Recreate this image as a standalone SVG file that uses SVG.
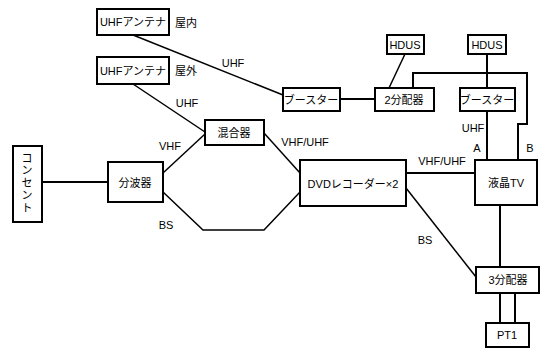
<svg xmlns="http://www.w3.org/2000/svg" width="548" height="356" viewBox="0 0 548 356">
<style>
.box{fill:#fff;stroke:#000;stroke-width:2}
.ln{fill:none;stroke:#000;stroke-width:2}
.dg{fill:none;stroke:#000;stroke-width:1.5}
text{font-family:"Liberation Sans","Noto Sans CJK JP",sans-serif;font-size:11px;fill:#000}
.c{text-anchor:middle}
</style>
<rect width="548" height="356" fill="#fff"/>
<g id="connectors">
<line class="dg" x1="133" y1="35" x2="283" y2="95"/>
<line class="dg" x1="133" y1="84" x2="205" y2="132"/>
<line class="ln" x1="42" y1="182" x2="108" y2="182"/>
<line class="dg" x1="163" y1="173" x2="205" y2="134"/>
<polyline class="dg" points="163,192 203,230 264,230 300,192"/>
<line class="dg" x1="264" y1="133" x2="300" y2="173"/>
<line class="ln" x1="340" y1="99" x2="375" y2="99"/>
<line class="dg" x1="405" y1="54" x2="389" y2="88"/>
<line class="ln" x1="487" y1="54" x2="487" y2="88"/>
<polyline class="ln" points="413,88 413,73 527,73 527,124 518,124 518,160"/>
<line class="ln" x1="487" y1="111" x2="487" y2="160"/>
<line class="ln" x1="406" y1="173" x2="475" y2="173"/>
<line class="dg" x1="406" y1="188" x2="476" y2="277"/>
<line class="ln" x1="500" y1="205" x2="500" y2="267"/>
<line class="ln" x1="500" y1="293" x2="500" y2="323"/>
<line class="ln" x1="515" y1="293" x2="515" y2="323"/>
<text class="c" x="233" y="67">UHF</text>
<text class="c" x="187" y="107">UHF</text>
<text class="c" x="170" y="150">VHF</text>
<text class="c" x="166" y="229">BS</text>
<text class="c" x="305" y="146">VHF/UHF</text>
<text class="c" x="442" y="165">VHF/UHF</text>
<text class="c" x="473" y="132">UHF</text>
<text class="c" x="477" y="152">A</text>
<text class="c" x="530" y="152">B</text>
<text class="c" x="425" y="244">BS</text>
</g>
<g id="ant1"><rect class="box" x="97" y="9" width="72" height="26"/><text class="c" x="133" y="26">UHFアンテナ</text><text x="175" y="27">屋内</text></g>
<g id="ant2"><rect class="box" x="97" y="57" width="72" height="27"/><text class="c" x="133" y="75">UHFアンテナ</text><text x="175" y="75">屋外</text></g>
<g id="booster1"><rect class="box" x="283" y="88" width="57" height="23"/><text class="c" x="311" y="104">ブースター</text></g>
<g id="split2"><rect class="box" x="375" y="88" width="59" height="23"/><text class="c" x="404" y="104">2分配器</text></g>
<g id="hdus1"><rect class="box" x="387" y="35" width="37" height="19"/><text class="c" x="405" y="49">HDUS</text></g>
<g id="hdus2"><rect class="box" x="468" y="35" width="38" height="19"/><text class="c" x="487" y="49">HDUS</text></g>
<g id="booster2"><rect class="box" x="460" y="88" width="55" height="23"/><text class="c" x="487" y="104">ブースター</text></g>
<g id="mixer"><rect class="box" x="205" y="120" width="59" height="25"/><text class="c" x="234" y="137">混合器</text></g>
<g id="concent"><rect class="box" x="13" y="146" width="29" height="76"/>
<text class="c" x="27" y="162">コ</text><text class="c" x="27" y="174">ン</text><text class="c" x="27" y="187">セ</text><text class="c" x="27" y="199">ン</text><text class="c" x="27" y="212">ト</text></g>
<g id="bunpa"><rect class="box" x="108" y="162" width="55" height="40"/><text class="c" x="135" y="187">分波器</text></g>
<g id="dvd"><rect class="box" x="300" y="160" width="106" height="46"/><text class="c" x="353" y="188">DVDレコーダー×2</text></g>
<g id="tv"><rect class="box" x="475" y="160" width="62" height="45"/><text class="c" x="506" y="187">液晶TV</text></g>
<g id="split3"><rect class="box" x="476" y="267" width="63" height="26"/><text class="c" x="508" y="284">3分配器</text></g>
<g id="pt1"><rect class="box" x="486" y="323" width="43" height="24"/><text class="c" x="507" y="339">PT1</text></g>
</svg>
